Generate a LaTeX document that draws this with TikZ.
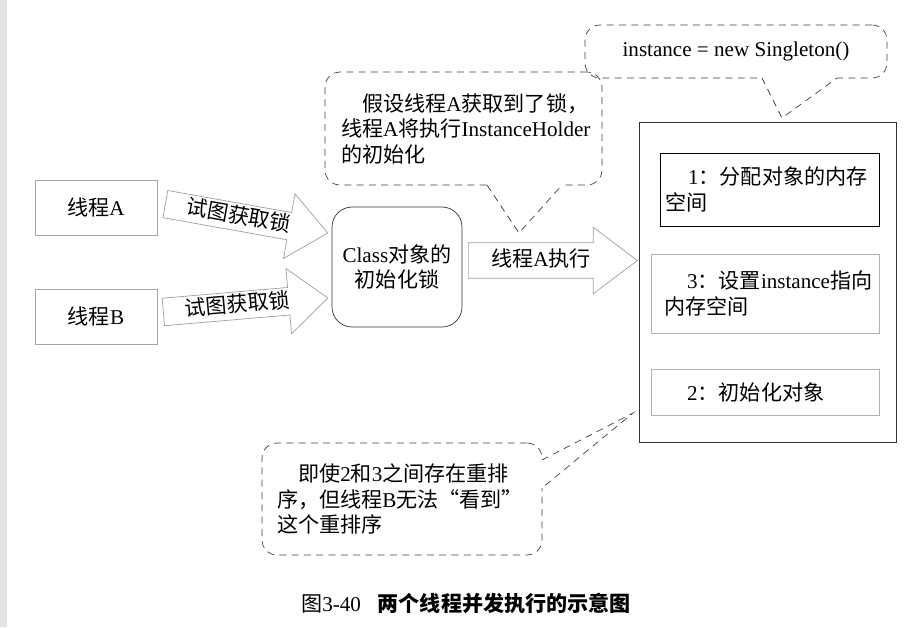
\documentclass[tikz,border=0pt]{standalone}
\usepackage{fontspec}
\setmainfont{Liberation Serif}
\newfontfamily\cjk{Noto Sans CJK SC}
\newcommand\zh[1]{{\cjk #1}}
\usetikzlibrary{shapes.arrows}

\tikzset{
  thread/.style={draw=gray!70, minimum width=2.44cm, minimum height=1.1cm},
  step box/.style={draw=gray!60, minimum width=4.56cm, inner xsep=0.26cm,
    text width=4.04cm, align=left},
  note/.style={draw=black!75, dashed, dash pattern=on 4pt off 3pt,
    rounded corners=0.3cm, align=left},
  pointer/.style={draw=black!75, dash pattern=on 4pt off 3pt},
  block arrow/.style={single arrow, draw=gray!75, anchor=tail,
    text height=9pt, text depth=2pt, inner xsep=4pt}
}

\begin{document}
\begin{tikzpicture}[x=0.02cm, y=-0.02cm, font=\fontsize{12}{14.5}\selectfont]
        \useasboundingbox (0,0) rectangle (916,627);
        \fill[gray!22] (0,0) rectangle (7,627);

        % threads
        \node[thread] (threadA) at (96,207.5) {\zh{线程}A};
        \node[thread] (threadB) at (96,316.5) {\zh{线程}B};

        % lock of the class object
        \node[draw=black!80, rounded corners=0.4cm, minimum width=2.6cm,
          minimum height=2.4cm, align=center] (lock) at (397,267)
          {Class\zh{对象的}\\\zh{初始化锁}};

        % arrows
        \node[block arrow, rotate=-10.1, minimum height=3.3cm, inner ysep=2.15pt,
          single arrow head extend=0.38cm, single arrow tip angle=80]
          (tryA) at (165,204) {\zh{试图获取锁}};
        \node[block arrow, rotate=4.9, minimum height=3.3cm, inner ysep=2.15pt,
          single arrow head extend=0.38cm, single arrow tip angle=80]
          (tryB) at (163,312) {\zh{试图获取锁}};
        \node[block arrow, minimum height=3.38cm, inner ysep=4.4pt,
          single arrow head extend=0.31cm, single arrow tip angle=74]
          (runA) at (468,260.5) {\zh{线程}A\zh{执行}};

        % instance = new Singleton()
        \node[draw=black!80, minimum width=5.14cm, minimum height=6.4cm]
          (holder) at (768,282.5) {};
        \node[step box, draw=black, minimum width=4.38cm, minimum height=1.46cm,
          text width=4.18cm, inner xsep=0.1cm] (alloc) at (769.5,189.5)
          {\hspace*{1.1em}1\zh{：分配对象的内存}\\\zh{空间}};
        \node[step box, minimum height=1.58cm] (assign) at (765,293.5)
          {\hspace*{1.1em}3\zh{：设置}instance\zh{指向}\\\zh{内存空间}};
        \node[step box, minimum height=0.92cm] (init) at (765,392)
          {\hspace*{1.1em}2\zh{：初始化对象}};

        % notes
        \node[note, minimum width=6.04cm, minimum height=1.06cm, align=center]
          (noteNew) at (736,51.5) {instance = new Singleton()};
        \node[note, minimum width=5.54cm, minimum height=2.26cm,
          text width=4.9cm, inner xsep=0.32cm] (noteA) at (463.5,128.5)
          {\hspace*{1em}\zh{假设线程}A\zh{获取到了锁，}\\
           \zh{线程}A\zh{将执行}InstanceHolder\\\zh{的初始化}};
        \node[note, minimum width=5.6cm, minimum height=2.24cm,
          text width=5cm, inner xsep=0.3cm] (noteB) at (402,499)
          {\hspace*{1em}\zh{即使}2\zh{和}3\zh{之间存在重排}\\
           \zh{序，但线程}B\zh{无法“看到”}\\\zh{这个重排序}};

        \coordinate (newL) at (762,78);   \coordinate (newR) at (837,78);
        \coordinate (newTip) at (782,118);
        \coordinate (aL) at (487,185);    \coordinate (aR) at (562,185);
        \coordinate (aTip) at (519,233);
        \coordinate (bT) at (542,460);    \coordinate (bB) at (542,488);
        \coordinate (bTip) at (633,413);

        \draw[white, line width=2pt] (newL) -- (newR);
        \draw[white, line width=2pt] (aL) -- (aR);
        \draw[white, line width=2pt] (bT) -- (bB);
        \draw[pointer] (newL) -- (newTip) -- (newR);
        \draw[pointer] (aL) -- (aTip) -- (aR);
        \draw[pointer] (bT) -- (bTip) -- (bB);

        % caption
        \node (caption) at (466,603)
          {\zh{图}3-40\hspace{0.8em}\zh{\bfseries 两个线程并发执行的示意图}};
    \end{tikzpicture}
\end{document}
